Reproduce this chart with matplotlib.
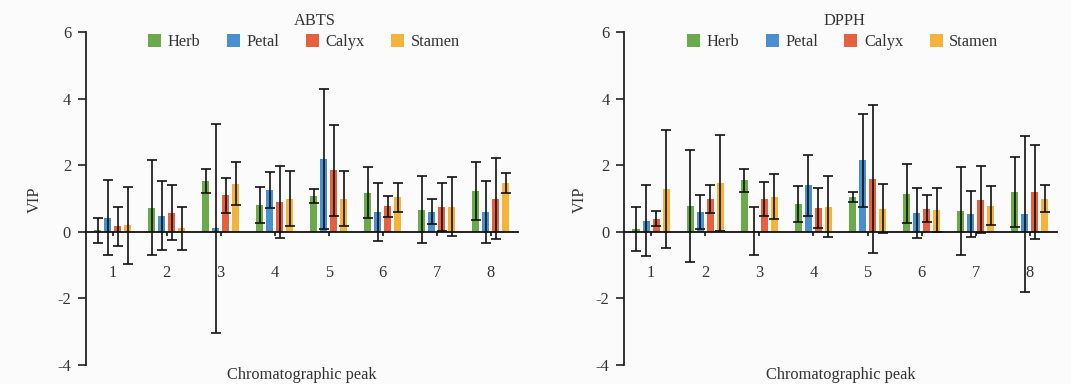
import matplotlib
matplotlib.use('Agg')
import matplotlib.pyplot as plt
import numpy as np

plt.rcParams['font.family'] = ['Liberation Serif', 'DejaVu Serif']

peaks = ['1', '2', '3', '4', '5', '6', '7', '8']
parts = ['Herb', 'Petal', 'Calyx', 'Stamen']
colors = ['#6aaa4a', '#4a8fcd', '#e5603f', '#f4b33a']

# ABTS
abts_herb = [0.05, 0.72, 1.54, 0.80, 1.08, 1.18, 0.67, 1.23]
abts_herb_err = [0.38, 1.43, 0.36, 0.55, 0.20, 0.76, 1.00, 0.88]
abts_petal = [0.42, 0.49, 0.10, 1.26, 2.18, 0.60, 0.60, 0.60]
abts_petal_err = [1.13, 1.03, 3.14, 0.55, 2.10, 0.87, 0.38, 0.94]
abts_calyx = [0.16, 0.58, 1.10, 0.89, 1.85, 0.77, 0.75, 1.00]
abts_calyx_err = [0.60, 0.84, 0.53, 1.08, 1.36, 0.32, 0.73, 1.22]
abts_stamen = [0.19, 0.10, 1.45, 1.00, 1.00, 1.04, 0.76, 1.47]
abts_stamen_err = [1.17, 0.66, 0.64, 0.82, 0.83, 0.44, 0.89, 0.31]

# DPPH
dpph_herb = [0.08, 0.77, 1.55, 0.85, 1.06, 1.15, 0.62, 1.20]
dpph_herb_err = [0.67, 1.68, 0.35, 0.54, 0.15, 0.88, 1.33, 1.06]
dpph_petal = [0.34, 0.60, 0.03, 1.40, 2.15, 0.57, 0.53, 0.54]
dpph_petal_err = [1.08, 0.52, 0.73, 0.91, 1.39, 0.75, 0.69, 2.34]
dpph_calyx = [0.40, 0.98, 1.00, 0.72, 1.59, 0.70, 0.96, 1.20]
dpph_calyx_err = [0.23, 0.42, 0.51, 0.60, 2.23, 0.42, 1.01, 1.41]
dpph_stamen = [1.28, 1.46, 1.06, 0.76, 0.70, 0.66, 0.78, 1.00]
dpph_stamen_err = [1.78, 1.45, 0.67, 0.91, 0.73, 0.66, 0.59, 0.41]

panels = [
    ('ABTS', [abts_herb, abts_petal, abts_calyx, abts_stamen],
     [abts_herb_err, abts_petal_err, abts_calyx_err, abts_stamen_err],
     [0.080, 0.0495, 0.4035, 0.867], -0.10, 0.53),
    ('DPPH', [dpph_herb, dpph_petal, dpph_calyx, dpph_stamen],
     [dpph_herb_err, dpph_petal_err, dpph_calyx_err, dpph_stamen_err],
     [0.5826, 0.0495, 0.4043, 0.867], -0.083, 0.51),
]

bg = '#fbfbfb'
fig = plt.figure(figsize=(10.71, 3.84), dpi=100, facecolor=bg)

x = np.arange(1, len(peaks) + 1)
step = 0.185
width = 0.13
fs = 11.8
txt = '#333333'

for title, means, errs, rect, ylab_x, title_x in panels:
    ax = fig.add_axes(rect)
    ax.set_facecolor(bg)
    for i in range(4):
        pos = x + (i - 1.5) * step
        ax.bar(pos, means[i], width, color=colors[i], label=parts[i], zorder=2)
        ax.errorbar(pos, means[i], yerr=errs[i], fmt='none', ecolor='#111111',
                    elinewidth=1.2, capsize=3.3, capthick=1.2, zorder=3)

    ax.set_xlim(0.5, 8.5)
    ax.set_ylim(-4, 6)
    ax.set_yticks([-4, -2, 0, 2, 4, 6])
    ax.set_yticklabels(['-4', '-2', '0', '2', '4', '6'])
    ax.set_xticks(x)
    ax.set_xticklabels(peaks)

    ax.spines['top'].set_visible(False)
    ax.spines['right'].set_visible(False)
    ax.spines['bottom'].set_position(('data', 0))
    ax.spines['left'].set_linewidth(1.3)
    ax.spines['bottom'].set_linewidth(1.3)
    ax.spines['left'].set_color('#222222')
    ax.spines['bottom'].set_color('#111111')

    ax.tick_params(axis='y', direction='out', length=6, width=1.2,
                   labelsize=fs, labelcolor=txt, color='#222222', pad=4.5)
    ax.tick_params(axis='x', direction='out', length=3, width=1.2,
                   labelsize=fs, labelcolor=txt, color='#111111', pad=21)

    ax.set_ylabel('VIP', fontsize=fs, color=txt)
    ax.yaxis.set_label_coords(ylab_x, 0.495)
    ax.set_xlabel('Chromatographic peak', fontsize=fs, color=txt)
    ax.xaxis.set_label_coords(0.5, -0.005)

    ax.text(title_x, 1.01, title, transform=ax.transAxes, ha='center',
            va='bottom', fontsize=fs, color=txt)

    ax.legend(loc='center', bbox_to_anchor=(0.505, 0.97), ncol=4, frameon=False,
              fontsize=fs, handlelength=0.8, handleheight=0.8,
              handletextpad=0.4, columnspacing=1.6, labelcolor=txt)

fig.savefig('out.png', dpi=100, facecolor=bg)
